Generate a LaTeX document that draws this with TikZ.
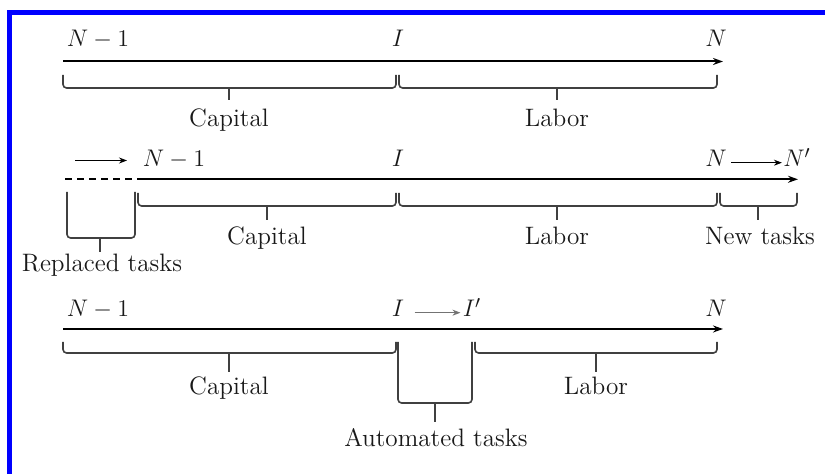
\documentclass[tikz,border=0pt]{standalone}
\usetikzlibrary{arrows.meta}
\newcommand\tbr[6]{\draw[brc] (#1,#4) -- (#1,#5) -- (#2,#5) -- (#2,#4); \draw[brc] (#3,#5) -- (#3,#6);}
\begin{document}
\begin{tikzpicture}[x=0.5pt,y=-0.5pt, font=\fontsize{12.6}{15}\selectfont,
  axis/.style={line width=1pt,-{Stealth[length=5pt,width=3.5pt]}},
  brc/.style={draw=black!75,line width=0.8pt,rounded corners=1.8pt},
  sm/.style={line width=0.5pt,-{Stealth[length=4pt,width=3pt]}},
  lbl/.style={anchor=base,inner sep=0pt,text=black!90}]
\useasboundingbox (0,0) rectangle (825,474);
\fill[white] (0,0) rectangle (825,474);
\draw[blue,line width=2.5pt,line join=miter] (9.5,490) -- (9.5,12.5) -- (840,12.5);

% Row 1
\node[lbl] (a1) at (98,47) {$N-1$};
\node[lbl] (i1) at (398,47) {$I$};
\node[lbl] (n1) at (716,47) {$N$};
\coordinate (s1) at (63,61.5);
\coordinate (e1) at (723,61.5);
\draw[axis] (s1) -- (e1);
\tbr{63}{396}{229}{75}{88}{100}
\tbr{399}{717}{557}{75}{88}{100}
\node[lbl] (c1) at (229,127) {Capital};
\node[lbl] (l1) at (557,127) {Labor};

% Row 2
\coordinate (r2a) at (75,160.5);
\coordinate (r2b) at (127,160.5);
\draw[sm] (r2a) -- (r2b);
\node[lbl] (a2) at (174,167) {$N-1$};
\node[lbl] (i2) at (398,167) {$I$};
\node[lbl] (n2) at (716,167) {$N$};
\node[lbl] (n2p) at (797,167) {$N'$};
\draw[sm,shorten <=2pt,shorten >=0.5pt] (n2.mid east) -- (n2p.mid west);
\coordinate (d2) at (65,179.3);
\coordinate (s2) at (137,179.3);
\coordinate (e2) at (798,179.3);
\draw[line width=1pt,dash pattern=on 3.5pt off 2.5pt] (d2) -- (s2);
\draw[axis] (s2) -- (e2);
\tbr{67}{135}{100}{192}{238}{252}
\tbr{138}{396}{267}{193}{206}{220}
\tbr{399}{717}{557}{193}{206}{220}
\tbr{720}{797}{758}{193}{206}{220}
\node[lbl] (rt) at (102,272) {Replaced tasks};
\node[lbl] (c2) at (267,245) {Capital};
\node[lbl] (l2) at (557,245) {Labor};
\node[lbl] (nt) at (760,245) {New tasks};

% Row 3
\node[lbl] (a3) at (98,317) {$N-1$};
\node[lbl] (i3) at (398,317) {$I$};
\node[lbl] (i3p) at (472,317) {$I'$};
\node[lbl] (n3) at (716,317) {$N$};
\draw[sm,draw=black!55,shorten <=5pt,shorten >=1pt] (i3.mid east) -- (i3p.mid west);
\coordinate (s3) at (63,329);
\coordinate (e3) at (723,329);
\draw[axis] (s3) -- (e3);
\tbr{63}{396}{229}{342}{353}{372}
\tbr{398}{472}{435}{342}{403}{422}
\tbr{475}{717}{596}{342}{353}{372}
\node[lbl] (c3) at (229,395) {Capital};
\node[lbl] (at) at (436,447) {Automated tasks};
\node[lbl] (l3) at (596,395) {Labor};
\end{tikzpicture}
\end{document}
